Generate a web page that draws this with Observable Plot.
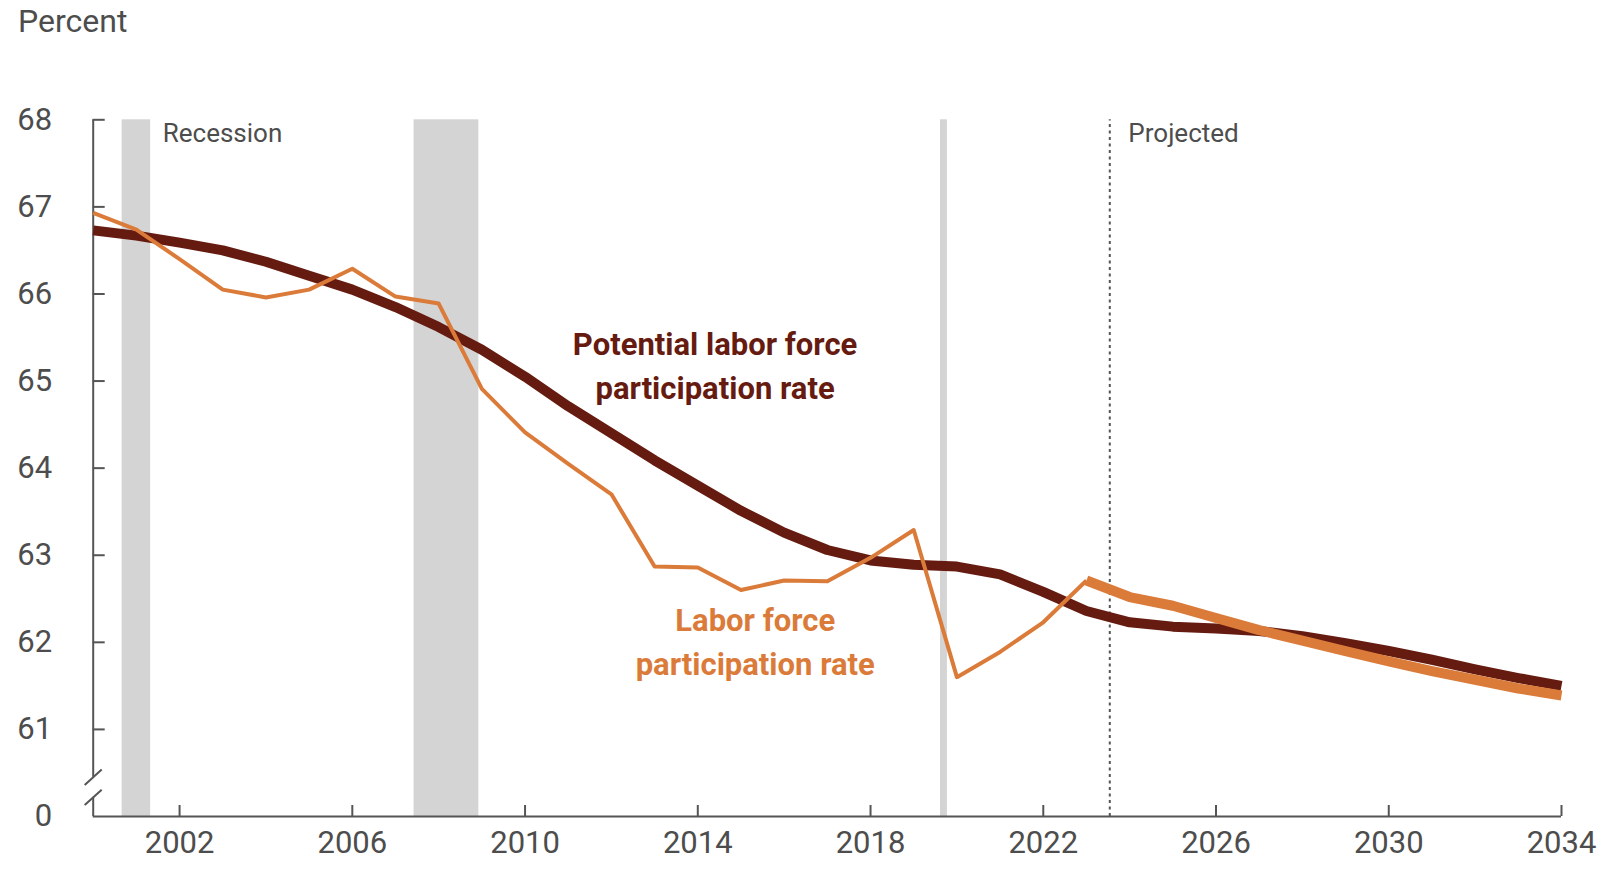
<!DOCTYPE html>
<html><head><meta charset="utf-8">
<script src="https://cdn.jsdelivr.net/npm/d3@7"></script>
<script src="https://cdn.jsdelivr.net/npm/@observablehq/plot@0.6"></script>
<style>
html,body{margin:0;padding:0;background:#fff;}
#title{height:50px;box-sizing:border-box;padding:5px 0 0 18px;font:32px Roboto, sans-serif;line-height:1;color:#4d4d4d;}
</style></head><body>
<div id="title">Percent</div>
<div id="chart"></div>
<script>
const years = [2000,2001,2002,2003,2004,2005,2006,2007,2008,2009,2010,2011,2012,2013,2014,2015,2016,2017,2018,2019,2020,2021,2022,2023,2024,2025,2026,2027,2028,2029,2030,2031,2032,2033,2034];
const potentialRate = [66.73,66.67,66.59,66.50,66.37,66.21,66.05,65.85,65.62,65.36,65.05,64.71,64.40,64.09,63.80,63.51,63.26,63.06,62.94,62.89,62.87,62.78,62.58,62.36,62.23,62.18,62.16,62.13,62.07,61.99,61.90,61.80,61.69,61.59,61.50];
const actualRate = [66.93,66.74,66.40,66.05,65.96,66.05,66.29,65.97,65.89,64.91,64.41,64.05,63.70,62.87,62.86,62.60,62.71,62.70,62.97,63.29,61.60,61.89,62.23,62.71,62.52,62.42,62.28,62.14,62.02,61.90,61.78,61.67,61.57,61.47,61.39];
const firstProjectedYear = 2023;
const projectionStart = 2023.54;
const recessionStart = [2000.67, 2007.43, 2019.62];
const recessionEnd = [2001.33, 2008.93, 2019.78];
const yTickValues = [61,62,63,64,65,66,67,68];
const yTickLabels = ["61","62","63","64","65","66","67","68"];
const yBreakValue = 60; const yBreakLabel = "0";
const xTickValues = [2002,2006,2010,2014,2018,2022,2026,2030,2034];
const xTickLabels = ["2002","2006","2010","2014","2018","2022","2026","2030","2034"];
const axisGap = [60.22, 60.45];
const seriesLabels = ["Potential labor force\nparticipation rate", "Labor force\nparticipation rate"];
const seriesLabelX = [2014.4, 2015.33];
const seriesLabelY = [65.21, 62.04];
const noteLabels = ["Recession", "Projected"];
const noteX = [2001.61, 2023.97];
const noteY = [67.84, 67.84];

const dark = "#661b10", orange = "#db7b3a", grey = "#4d4d4d", band = "#d4d4d4";
const potential = years.map((y,i)=>({year:y, value:potentialRate[i]}));
const actual = years.map((y,i)=>({year:y, value:actualRate[i]}));
const actualHist = actual.filter(d=>d.year<=firstProjectedYear);
const actualProj = actual.filter(d=>d.year>=firstProjectedYear);
const recessions = recessionStart.map((s,i)=>({start:s, end:recessionEnd[i]}));
const labels = seriesLabels.map((t,i)=>({text:t, x:seriesLabelX[i], y:seriesLabelY[i], color:[dark,orange][i]}));
const notes = noteLabels.map((t,i)=>({text:t, x:noteX[i], y:noteY[i]}));

const W = 1601, H = 836, mL = 92.7, mR = 40, mT = 69.3, mB = 70;
const innerW = W - mL - mR, innerH = H - mT - mB;
const slash = {draw(ctx){ ctx.moveTo(-8.5, 7.7); ctx.lineTo(8.5, -7.7); }};

const chart = Plot.plot({
  width: W, height: H,
  marginLeft: mL, marginRight: mR, marginTop: mT, marginBottom: mB,
  x: {domain: [2000, 2034], axis: null},
  y: {domain: [60, 68], axis: null},
  style: {fontFamily: "Roboto, sans-serif", background: "#fff", overflow: "visible"},
  marks: [
    Plot.rect(recessions, {x1: "start", x2: "end", y1: 60, y2: 68, fill: band}),
    Plot.ruleX([projectionStart], {y1: 60, y2: 68, stroke: "#555", strokeWidth: 2, strokeDasharray: "3,3.5"}),
    Plot.ruleX([2000], {y1: axisGap[1], y2: 68, stroke: "#555", strokeWidth: 2}),
    Plot.ruleX([2000], {y1: 60, y2: axisGap[0], stroke: "#555", strokeWidth: 2}),
    Plot.dot(axisGap, {x: 2000, y: d=>d, symbol: slash, r: 5, stroke: "#555", strokeWidth: 2, fill: "none"}),
    Plot.ruleY([yBreakValue], {stroke: "#555", strokeWidth: 2}),
    Plot.ruleY(yTickValues, {y: d=>d, insetRight: innerW - 12, stroke: "#555", strokeWidth: 2}),
    Plot.ruleX(xTickValues, {x: d=>d, insetTop: innerH - 11, stroke: "#555", strokeWidth: 2}),
    Plot.text(yTickValues, {x: 2000, y: d=>d, text: (d,i)=>yTickLabels[i], dx: -41, textAnchor: "end", fontSize: 31, fill: grey}),
    Plot.text([yBreakValue], {x: 2000, y: d=>d, text: ()=>yBreakLabel, dx: -41, textAnchor: "end", fontSize: 31, fill: grey}),
    Plot.text(xTickValues, {x: d=>d, y: 60, text: (d,i)=>xTickLabels[i], dy: 27, fontSize: 31, fill: grey}),
    Plot.text(notes, {x: "x", y: "y", text: "text", textAnchor: "start", fontSize: 26, fill: grey}),
    Plot.line(potential, {x: "year", y: "value", stroke: dark, strokeWidth: 10, strokeLinejoin: "round", strokeLinecap: "butt"}),
    Plot.line(actualHist, {x: "year", y: "value", stroke: orange, strokeWidth: 4, strokeLinejoin: "round", strokeLinecap: "butt"}),
    Plot.line(actualProj, {x: "year", y: "value", stroke: orange, strokeWidth: 10, strokeLinejoin: "round", strokeLinecap: "butt"}),
    Plot.text(labels, {x: "x", y: "y", text: "text", fill: "color", fontSize: 31, fontWeight: 700, lineHeight: 1.42})
  ]
});
document.getElementById("chart").appendChild(chart);
</script>
</body></html>
